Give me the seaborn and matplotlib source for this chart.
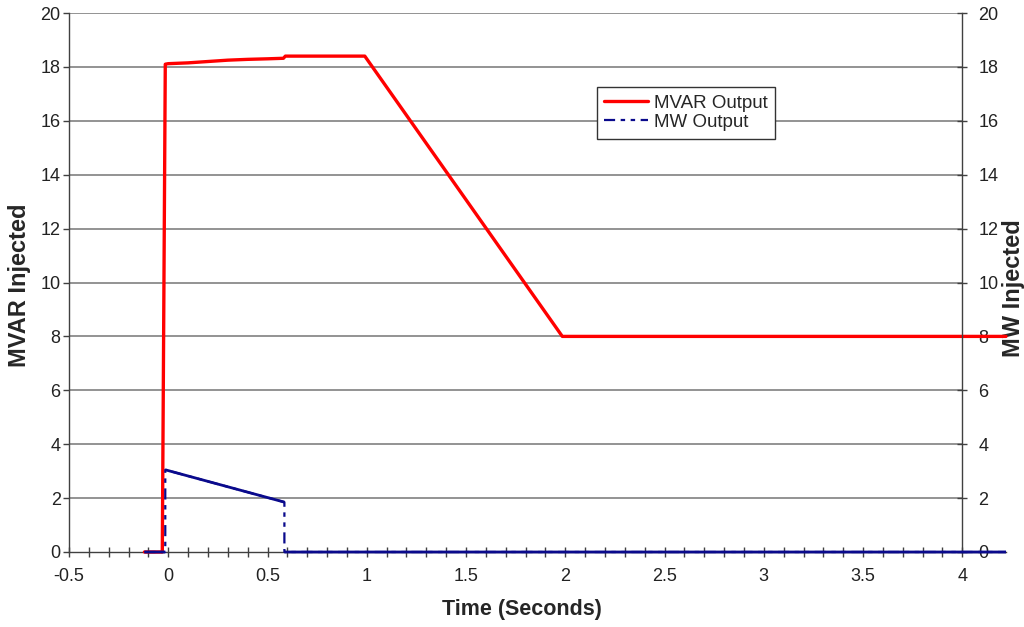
import numpy as np
import pandas as pd
import matplotlib
matplotlib.use('Agg')
import matplotlib.pyplot as plt
import seaborn as sns
from matplotlib.lines import Line2D
from matplotlib.ticker import FixedLocator, FormatStrFormatter

# MVAR output (left axis)
mvar_time = [-0.12, -0.03, -0.015, 0.0, 0.1, 0.2, 0.3, 0.4, 0.5, 0.58, 0.59, 0.8, 0.99, 1.985, 2.5, 3.0, 3.5, 4.0, 4.22]
mvar_value = [0.0, 0.0, 18.1, 18.12, 18.15, 18.2, 18.25, 18.28, 18.3, 18.32, 18.4, 18.4, 18.4, 8.0, 8.0, 8.0, 8.0, 8.0, 8.0]

# MW output (right axis)
mw_time = [-0.12, -0.015, -0.015, 0.1, 0.2, 0.3, 0.4, 0.5, 0.585, 0.585, 2.0, 4.22]
mw_value = [0.0, 0.0, 3.05, 2.82, 2.62, 2.42, 2.22, 2.02, 1.85, 0.0, 0.0, 0.0]

y_ticks = list(range(0, 21, 2))
x_ticks = [-0.5, 0, 0.5, 1, 1.5, 2, 2.5, 3, 3.5, 4]

sns.set_theme(style='white')
plt.rcParams['font.family'] = ['Liberation Sans', 'DejaVu Sans']

axis_col = '#404040'
grid_col = '#8a8a8a'
red = '#ff0000'
navy = '#0a0a8c'

fig = plt.figure(figsize=(10.24, 6.27), dpi=100)
ax = fig.add_subplot(111)
fig.subplots_adjust(left=69/1024, right=1006/1024, bottom=75/627, top=614/627)
ax2 = ax.twinx()

ax.set_xlim(-0.5, 4.22)
ax.set_ylim(0, 20)
ax2.set_ylim(0, 20)

# horizontal grid lines, only between the two y axes
ax.hlines(y_ticks[1:], -0.5, 4.0, color=grid_col, lw=1.3, zorder=0)

df_mvar = pd.DataFrame({'t': mvar_time, 'v': mvar_value})
df_mw = pd.DataFrame({'t': mw_time, 'v': mw_value})

# MW: dashed through the whole series (shows on the vertical jumps), solid over the rest
mw_dash = (0, (5, 2.5, 2, 2.5, 2, 2.5))
sns.lineplot(data=df_mw, x='t', y='v', ax=ax2, sort=False, estimator=None,
             color=navy, lw=1.6, legend=False, clip_on=False, zorder=3)
ax2.lines[-1].set_linestyle(mw_dash)
st, sv = [], []
for i in range(len(mw_time)):
    if i > 0 and mw_time[i] == mw_time[i - 1]:
        st.append(np.nan)
        sv.append(np.nan)
    st.append(mw_time[i])
    sv.append(mw_value[i])
ax2.plot(st, sv, color=navy, lw=2.0, solid_capstyle='butt', clip_on=False, zorder=3)

sns.lineplot(data=df_mvar, x='t', y='v', ax=ax2, sort=False, estimator=None,
             color=red, lw=2.4, legend=False, clip_on=False, zorder=2)

# legend
h_mvar = Line2D([], [], color=red, lw=2.4)
h_mw = Line2D([], [], color=navy, lw=1.6, linestyle=mw_dash)
leg = ax2.legend([h_mvar, h_mw], ['MVAR Output', 'MW Output'], loc='upper left',
                 bbox_to_anchor=(0.563, 0.862), borderaxespad=0, fontsize=13.5,
                 frameon=True, fancybox=False, framealpha=1, edgecolor='#333333',
                 handlelength=2.35, handletextpad=0.3, borderpad=0.4, labelspacing=0.1)
leg.get_frame().set_linewidth(1.0)

# spines
for s in ['top', 'right']:
    ax.spines[s].set_visible(False)
for s in ['left', 'bottom']:
    ax.spines[s].set_color(axis_col)
    ax.spines[s].set_linewidth(1.0)
for s in ['top', 'left', 'bottom']:
    ax2.spines[s].set_visible(False)
ax2.spines['right'].set_position(('data', 4.0))
ax2.spines['right'].set_color(axis_col)
ax2.spines['right'].set_linewidth(1.0)

# ticks
ax.xaxis.set_major_locator(FixedLocator(x_ticks))
ax.xaxis.set_minor_locator(FixedLocator(np.arange(-5, 41) / 10))
ax.xaxis.set_major_formatter(FormatStrFormatter('%g'))
ax.tick_params(axis='x', which='both', direction='inout', length=7, width=1,
               color=axis_col, labelsize=13, pad=8, labelcolor='#222222', bottom=True)
ax.yaxis.set_major_locator(FixedLocator(y_ticks))
ax.tick_params(axis='y', direction='out', length=4, width=1, color=axis_col,
               labelsize=13, pad=2, labelcolor='#222222', left=True)
ax2.yaxis.set_major_locator(FixedLocator(y_ticks))
ax2.tick_params(axis='y', direction='inout', length=7, width=1, color=axis_col,
                labelsize=13, pad=8, labelcolor='#222222', right=True)

ax.set_xlabel('Time (Seconds)', fontsize=15.5, fontweight='bold')
ax.xaxis.set_label_coords(0.483, -0.088)
ax.set_ylabel('MVAR Injected', fontsize=17, fontweight='bold')
ax.yaxis.set_label_coords(-0.0405, 0.495)
ax2.set_ylabel('MW Injected', fontsize=17, fontweight='bold', rotation=90)
ax2.yaxis.set_label_coords(0.9957, 0.49)

fig.savefig('out.png', dpi=100)
